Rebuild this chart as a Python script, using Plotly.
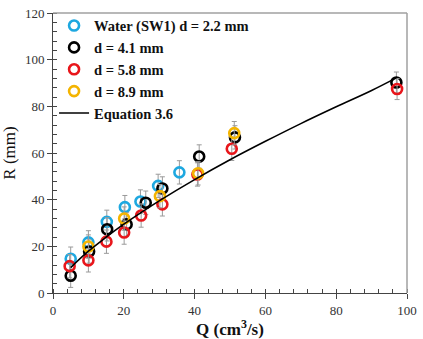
import plotly.graph_objects as go

# Water (SW1) d = 2.2 mm
q_water = [5.0, 10.0, 15.2, 20.3, 24.7, 29.7, 35.7]
r_water = [14.7, 21.7, 30.5, 36.8, 39.2, 45.9, 51.7]
# d = 4.1 mm
q_41 = [5.0, 10.2, 15.3, 20.8, 26.2, 30.9, 41.3, 51.4, 97.0]
r_41 = [7.4, 17.8, 27.3, 29.4, 38.7, 44.8, 58.5, 66.7, 90.2]
# d = 5.8 mm
q_58 = [4.7, 10.0, 15.1, 20.1, 24.9, 30.9, 40.8, 50.5, 97.2]
r_58 = [11.5, 14.0, 22.0, 25.9, 33.2, 38.0, 50.8, 61.8, 87.4]
# d = 8.9 mm
q_89 = [10.0, 20.1, 30.2, 41.0, 51.2]
r_89 = [19.9, 31.9, 41.5, 51.3, 68.5]
# error half-widths (mm)
err_water = [5, 5, 5, 5, 5, 5, 5]
err_41 = [5, 5, 5, 5, 5, 5, 5, 5, 4.5]
err_58 = [5, 5, 5, 5, 5, 5, 5, 5, 4.5]
err_89 = [5, 5, 5, 5, 5]
# Equation 3.6 curve
q_eq = [5, 10, 15, 20, 25, 30, 40, 50, 60, 70, 80, 90, 97]
r_eq = [10.9, 17.9, 23.9, 29.5, 34.6, 39.5, 48.6, 57.1, 65.0, 72.6, 79.8, 86.8, 92.2]

names = ["Water (SW1) d = 2.2 mm", "d = 4.1 mm", "d = 5.8 mm", "d = 8.9 mm", "Equation 3.6"]
colors = ["#1EA8E0", "#000000", "#E8161B", "#F4B400"]

FONT = "Liberation Serif, Times New Roman, serif"

fig = go.Figure()
series = [(q_water, r_water, err_water), (q_41, r_41, err_41),
          (q_58, r_58, err_58), (q_89, r_89, err_89)]
for i, ((q, r, e), name, c) in enumerate(zip(series, names[:4], colors)):
    fig.add_trace(go.Scatter(
        x=q, y=r, mode="markers", name=name, legendgroup=f"g{i}",
        marker=dict(symbol="circle-open", size=10, color=c, line=dict(width=2.6, color=c)),
        error_y=dict(type="data", array=e, visible=True, color="#9a9a9a", thickness=1, width=2.5),
    ))
fig.add_trace(go.Scatter(
    x=q_eq, y=r_eq, mode="lines", name=names[4], legendgroup="g4",
    line=dict(color="#000000", width=1.6, shape="spline"),
))

fig.update_layout(
    width=423, height=339,
    margin=dict(l=53, r=6, t=9, b=44),
    paper_bgcolor="white", plot_bgcolor="white",
    font=dict(family=FONT, size=13, color="#333"),
    legend=dict(
        x=0.003, y=1.012, xanchor="left", yanchor="top",
        bgcolor="rgba(0,0,0,0)", borderwidth=0,
        font=dict(family=FONT, size=14.5, color="#111", weight="bold"),
        tracegroupgap=5, itemwidth=30, traceorder="normal",
    ),
    showlegend=True,
)
fig.update_xaxes(
    range=[0, 100], dtick=20, showgrid=False, zeroline=False,
    showline=True, linecolor="#444", linewidth=1,
    ticks="outside", ticklen=5, tickcolor="#444",
    ticklabeloverflow="allow",
    minor=dict(ticks="inside", dtick=4, ticklen=4, tickcolor="#444", showgrid=False),
    title=dict(text="<b>Q (cm<sup>3</sup>/s)</b>", font=dict(family=FONT, size=17, color="#111"), standoff=4),
    tickfont=dict(family=FONT, size=13, color="#333"),
)
fig.update_yaxes(
    range=[0, 120], dtick=20, showgrid=False, zeroline=False,
    showline=True, linecolor="#444", linewidth=1,
    ticks="outside", ticklen=5, tickcolor="#444",
    ticklabeloverflow="allow",
    minor=dict(ticks="inside", dtick=4, ticklen=4, tickcolor="#444", showgrid=False),
    title=dict(text="R (mm)", font=dict(family=FONT, size=17, color="#111"), standoff=6),
    tickfont=dict(family=FONT, size=13, color="#333"),
)
# gray frame on top and right
fig.add_shape(type="line", xref="paper", yref="paper", x0=0, x1=1, y0=1, y1=1,
              line=dict(color="#a0a0a0", width=1.5))
fig.add_shape(type="line", xref="paper", yref="paper", x0=1, x1=1, y0=0, y1=1,
              line=dict(color="#a0a0a0", width=1.5))

fig.write_html("out.html")
